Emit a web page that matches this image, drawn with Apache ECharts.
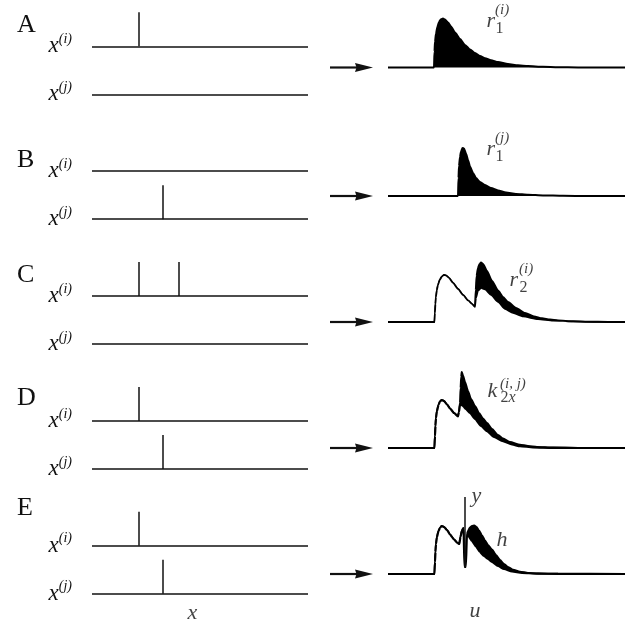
<!DOCTYPE html>
<html><head><meta charset="utf-8">
<script src="https://cdn.jsdelivr.net/npm/echarts@6/dist/echarts.min.js"></script>
<style>html,body{margin:0;padding:0;background:#fff}#c{width:631px;height:625px}</style>
</head><body><div id="c"></div>
<script>
// ---------------- DATA ----------------
const panelLetters = ['A', 'B', 'C', 'D', 'E'];
const trainLength = 216;          // x extent of the input spike trains
const trainLevelI = 48;           // level of train x^(i)
const trainLevelJ = 0;            // level of train x^(j)
const spikeHeight = 34;
const spikesI = [[47], [], [47, 87], [47], [47]];
const spikesJ = [[], [71], [], [71], [71]];
const trainLabelI = '(i)';
const trainLabelJ = '(j)';

// responses u (x: time, y: amplitude)
const respA = [[0,0],[46,0],[46.5,16],[47,26],[48,34],[49.5,41],[51,45.5],[53,48.3],[55,49],[57,48],[60,45],[63,41],[67,35],[72,28.5],[77,22.5],[82,18],[87,14.5],[92,11.5],[97,9.2],[103,7.3],[110,5.4],[120,3.5],[130,2.2],[140,1.4],[155,0.7],[170,0.3],[190,0.1],[210,0],[237,0]];
const respB = [[0,0],[70,0],[70.5,18],[71,30],[72,39],[73,44.5],[74.5,48],[76,47.5],[78,42.5],[80,36],[82,29.5],[85,23],[88,18],[92,14],[97,11],[103,8],[110,5.5],[118,3.5],[128,2.1],[140,1.2],[155,0.6],[175,0.2],[200,0],[237,0]];
const humpC = [[0,0],[46.5,0],[47,9],[47.5,18],[48,25],[49,32],[50,37],[52,42.5],[54,45.5],[56,47],[58,46.5],[61,44],[65,39],[70,33],[75,27],[80,21.5],[84,18],[86.5,15.5]];
const lowerEdgeC = [[87,15],[88,24],[90,31],[93,34],[97,32.5],[103,27],[110,20],[117,13],[125,9],[135,5.5],[150,2.8],[165,1.4],[185,0.5],[210,0.1],[237,0]];
const upperEdgeC = [[87,15],[87.8,32],[88.6,46],[90,54],[91.5,58],[93,59.5],[95,58],[99,51],[104,41],[110,31.5],[115,25],[120,20],[128,14],[137,9],[146,5.5],[154,3.7],[162,2.4],[170,1.5],[185,0.7],[200,0.3],[220,0.1],[237,0]];
const humpD = [[0,0],[46.5,0],[47,12],[47.5,22],[48,30],[49,37],[50.5,43],[52,46.5],[53.7,48],[56,47],[59,43.5],[62,39.5],[66,35],[70,31.5],[70.5,31.5]];
const lowerEdgeD = [[71,36],[72,43],[73,43.5],[75,42],[78,39],[82,35],[87,29],[93,22],[99,16.8],[106,11],[115,6.8],[124,3.5],[132,1.8],[145,0.7],[165,0.2],[190,0],[237,0]];
const upperEdgeD = [[71,36],[72,45],[72.6,60],[73.2,71],[73.7,76],[75,72.5],[77,66],[80,57],[83,49],[87,42],[91,35],[95,29.5],[99,25],[104,19],[110,13],[115,9.5],[122,6],[132,3.3],[140,2],[149,1.1],[165,0.4],[190,0.1],[237,0]];
const humpE = [[0,0],[46.5,0],[47,12],[47.5,22],[48,30],[49,37],[50.5,43],[52,46],[53.7,48],[56,47],[59,44],[62,39.5],[66,34.5],[69.5,31],[71.3,30],[72.5,37],[74,43.5],[75.5,46],[76.5,7],[77.8,7],[79,40]];
const lowerEdgeE = [[81,37],[84,33],[88,27.5],[92,22],[96,18],[100,15],[104,12],[110,8],[116,5],[124,2.5],[134,1.1],[150,0.4],[170,0.1],[237,0]];
const upperEdgeE = [[80,43],[82,46.5],[84,48],[86.3,48.5],[88.5,47],[91,43.5],[94,38.5],[97,33.5],[100,29],[104,24.5],[108,19],[112,14],[116,10],[120,7],[125,4.3],[132,2.2],[140,1.1],[150,0.5],[170,0.2],[237,0]];
const outputSpikeE = [[76.3,7],[76.3,77]];
const arrowSpan = [-58, -15];

// ---------------- LAYOUT ----------------
const leftJBase = [94.3, 219.2, 344.0, 468.9, 593.7];
const rightBase = [67.5, 196, 322, 448, 574];
const rightYMax = [60, 60, 70, 85, 90];
const letterTop = [7, 142, 257, 380, 490];

const serif = '"Liberation Serif", "DejaVu Serif", serif';
const ink = '#111';
const richStyles = {
  m: {fontFamily: serif, fontStyle: 'italic', fontSize: 22, color: ink},
  i: {fontFamily: serif, fontStyle: 'italic', fontSize: 15, color: ink},
  n: {fontFamily: serif, fontSize: 16, color: ink}
};

// annotations on the right panels: [panel, u, h, text, style]
const rightNotes = [
  [0, 98.5, 46.5, 'r', 'm'], [0, 107, 57.5, '(i)', 'i'], [0, 107.5, 38.5, '1', 'n'],
  [1, 98.5, 47, 'r', 'm'], [1, 107, 58, '(j)', 'i'], [1, 107.5, 39, '1', 'n'],
  [2, 121.5, 42, 'r', 'm'], [2, 131, 53, '(i)', 'i'], [2, 131.5, 34, '2', 'n'],
  [3, 99.5, 56.5, 'k', 'm'], [3, 112, 63.5, '(i, j)', 'i'], [3, 112.5, 50, '{n|2}{m2|x}', 'n'],
  [4, 83.5, 78, 'y', 'm'], [4, 108.5, 34, 'h', 'm']
];
richStyles.m2 = {fontFamily: serif, fontStyle: 'italic', fontSize: 16, color: ink};

// ---------------- BUILD ----------------
const grids = [], xAxes = [], yAxes = [], series = [], titles = [];

function xLabel(sup) {
  return '{x|x}{s|' + sup + '}';
}

for (let p = 0; p < 5; p++) {
  grids.push({left: 92, width: trainLength, top: leftJBase[p] - 84, height: 100});
  xAxes.push({type: 'value', gridIndex: p, min: 0, max: trainLength, show: false});
  yAxes.push({
    type: 'value', gridIndex: p, min: -16, max: 84, interval: 16,
    axisLine: {show: false}, axisTick: {show: false}, splitLine: {show: false},
    axisLabel: {
      margin: 20,
      formatter: v => v === trainLevelI ? xLabel(trainLabelI) : (v === trainLevelJ ? xLabel(trainLabelJ) : ''),
      rich: {
        x: {fontFamily: serif, fontStyle: 'italic', fontSize: 23, lineHeight: 28, color: ink},
        s: {fontFamily: serif, fontStyle: 'italic', fontSize: 14, lineHeight: 14, verticalAlign: 'top', color: ink}
      }
    }
  });
  titles.push({
    text: panelLetters[p], left: 12, top: letterTop[p],
    textStyle: {fontFamily: serif, fontSize: 26, fontWeight: 'normal', color: ink, lineHeight: 26}
  });
  const segs = [
    {coords: [[0, trainLevelI], [trainLength, trainLevelI]]},
    {coords: [[0, trainLevelJ], [trainLength, trainLevelJ]]}
  ];
  spikesI[p].forEach(t => segs.push({coords: [[t, trainLevelI], [t, trainLevelI + spikeHeight]]}));
  spikesJ[p].forEach(t => segs.push({coords: [[t, trainLevelJ], [t, trainLevelJ + spikeHeight]]}));
  series.push({
    type: 'lines', coordinateSystem: 'cartesian2d', xAxisIndex: p, yAxisIndex: p,
    data: segs, clip: false, silent: true,
    lineStyle: {color: ink, width: 1.5, opacity: 1, type: 'solid'}
  });
}

for (let p = 0; p < 5; p++) {
  const gi = 5 + p;
  grids.push({left: 328, width: 297, top: rightBase[p] - rightYMax[p], height: rightYMax[p] + 20});
  xAxes.push({type: 'value', gridIndex: gi, min: -60, max: 237, show: false});
  yAxes.push({type: 'value', gridIndex: gi, min: -20, max: rightYMax[p], show: false});
}

const responses = [
  {upper: respA, lower: null, lw: 2},
  {upper: respB, lower: null, lw: 2},
  {upper: humpC.concat(upperEdgeC), lower: humpC.concat(lowerEdgeC), lw: 1.6},
  {upper: humpD.concat(upperEdgeD), lower: humpD.concat(lowerEdgeD), lw: 2.2},
  {upper: humpE.concat(upperEdgeE), lower: humpE.concat(lowerEdgeE), lw: 2.2}
];

responses.forEach((r, p) => {
  const gi = 5 + p;
  series.push({
    type: 'line', xAxisIndex: gi, yAxisIndex: gi, data: r.upper,
    showSymbol: false, symbol: 'none', smooth: 0.2, smoothMonotone: 'x', clip: false,
    lineStyle: {color: '#000', width: 2}, areaStyle: {color: '#000', opacity: 1, origin: 0}, z: 2
  });
  if (r.lower) {
    series.push({
      type: 'line', xAxisIndex: gi, yAxisIndex: gi, data: r.lower,
      showSymbol: false, symbol: 'none', smooth: 0.2, smoothMonotone: 'x', clip: false,
      lineStyle: {color: '#000', width: r.lw}, areaStyle: {color: '#fff', opacity: 1, origin: 0}, z: 3
    });
  }
  series.push({
    type: 'custom', xAxisIndex: gi, yAxisIndex: gi, data: [arrowSpan], clip: false, z: 4,
    renderItem: (params, api) => {
      const a = api.coord([api.value(0), 0]);
      const b = api.coord([api.value(1), 0]);
      const L = 18, W = 4.5;
      return {type: 'group', children: [
        {type: 'line', shape: {x1: a[0], y1: a[1], x2: b[0] - L + 2, y2: b[1]}, style: {stroke: ink, lineWidth: 2.2}},
        {type: 'polygon', shape: {points: [[b[0], b[1]], [b[0] - L, b[1] - W], [b[0] - L + 1.5, b[1]], [b[0] - L, b[1] + W]]}, style: {fill: ink}}
      ]};
    }
  });
});

// output spike y in panel E
series.push({
  type: 'lines', coordinateSystem: 'cartesian2d', xAxisIndex: 9, yAxisIndex: 9, z: 5,
  data: [{coords: outputSpikeE}], clip: false, silent: true,
  lineStyle: {color: ink, width: 1.5, opacity: 1}
});

// right annotations
for (let p = 0; p < 5; p++) {
  const items = rightNotes.filter(n => n[0] === p).map(n => ({
    value: [n[1], n[2]],
    label: {
      show: true, position: 'right', distance: 0,
      formatter: n[3].indexOf('{') === 0 ? n[3] : '{' + n[4] + '|' + n[3] + '}',
      rich: richStyles
    }
  }));
  series.push({type: 'scatter', xAxisIndex: 5 + p, yAxisIndex: 5 + p, symbolSize: 0, clip: false, z: 6, data: items, silent: true});
}

// axis names x (inputs) and u (responses)
series.push({type: 'scatter', xAxisIndex: 4, yAxisIndex: 4, symbolSize: 0, clip: false, silent: true,
  data: [{value: [100.5, -19.3], label: {show: true, position: 'inside', formatter: '{m|x}', rich: richStyles}}]});
series.push({type: 'scatter', xAxisIndex: 9, yAxisIndex: 9, symbolSize: 0, clip: false, silent: true,
  data: [{value: [87, -37], label: {show: true, position: 'inside', formatter: '{m|u}', rich: richStyles}}]});

const chart = echarts.init(document.getElementById('c'));
chart.setOption({
  animation: false,
  backgroundColor: '#fff',
  title: titles,
  grid: grids,
  xAxis: xAxes,
  yAxis: yAxes,
  series: series
});
</script>
</body></html>
